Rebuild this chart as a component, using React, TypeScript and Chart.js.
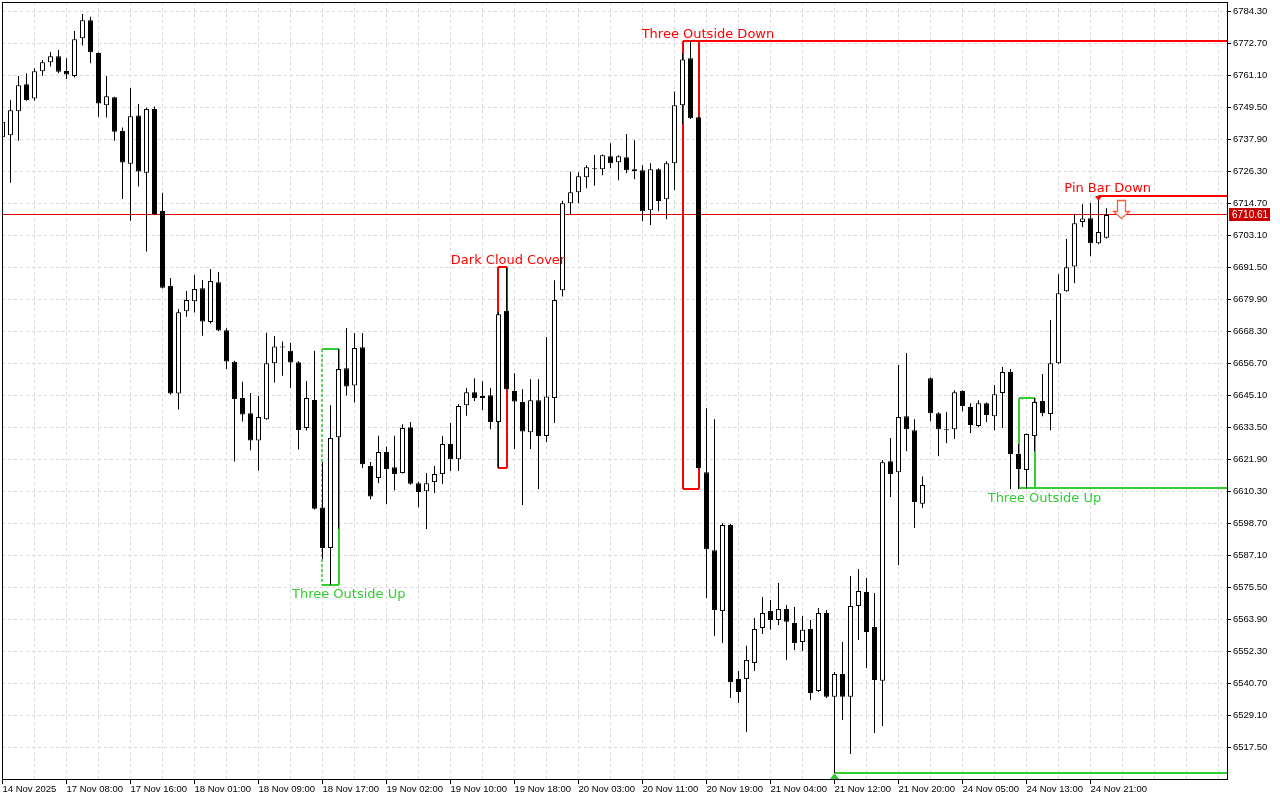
import React, { useEffect, useRef } from 'react';
import { Chart, registerables } from 'chart.js';

Chart.register(...registerables);

// ---- candle data (hourly bars, index 0 = first visible bar) ----
const opens = [
  6738.8, 6739.5, 6748.2, 6758.0, 6752.8, 6762.7, 6766.0, 6768.1, 6762.8, 6761.0,
  6774.7, 6781.2, 6769.3, 6750.4, 6753.3, 6741.0, 6729.2, 6746.7, 6725.9, 6749.0,
  6712.0, 6684.9, 6645.8, 6675.7, 6679.3, 6684.0, 6671.8, 6686.2, 6668.8, 6657.3,
  6644.2, 6638.7, 6628.8, 6636.5, 6656.8, 6662.9, 6661.3, 6657.2, 6633.3, 6643.5,
  6604.5, 6589.8, 6630.0, 6655.0, 6648.7, 6662.6, 6619.5, 6615.2, 6624.6, 6619.1,
  6617.0, 6633.6, 6613.3, 6610.4, 6613.7, 6616.6, 6627.5, 6622.0, 6641.6, 6646.3,
  6644.2, 6645.2, 6635.5, 6675.8, 6646.7, 6642.7, 6631.8, 6643.4, 6630.4, 6644.2,
  6683.3, 6714.8, 6718.8, 6724.3, 6727.5, 6727.2, 6731.9, 6729.7, 6731.5, 6727.2,
  6726.8, 6712.3, 6727.2, 6716.3, 6729.3, 6750.4, 6767.4, 6746.0, 6617.3, 6589.0,
  6566.9, 6598.1, 6542.3, 6542.3, 6548.1, 6560.8, 6566.9, 6563.7, 6567.7, 6562.6,
  6555.7, 6560.4, 6537.9, 6566.2, 6535.8, 6544.1, 6535.8, 6568.8, 6573.8, 6561.1,
  6541.6, 6621.3, 6617.3, 6637.6, 6632.5, 6605.8, 6651.4, 6638.7, 6632.9, 6632.9,
  6646.7, 6640.9, 6634.0, 6642.3, 6637.6, 6646.0, 6653.6, 6623.9, 6618.1, 6630.4,
  6643.1, 6638.4, 6656.8, 6682.9, 6691.9, 6708.0, 6709.4, 6700.3, 6702.3,
];
const highs = [
  6745.8, 6752.3, 6761.0, 6762.0, 6763.8, 6766.8, 6769.7, 6770.4, 6767.4, 6777.3,
  6783.5, 6782.5, 6769.6, 6761.0, 6753.5, 6742.3, 6756.6, 6750.8, 6749.5, 6749.9,
  6718.6, 6687.7, 6676.5, 6683.0, 6688.8, 6687.0, 6691.0, 6689.9, 6669.5, 6657.7,
  6650.1, 6646.0, 6645.0, 6667.9, 6666.7, 6664.7, 6664.2, 6657.5, 6650.4, 6661.3,
  6621.0, 6641.6, 6662.0, 6669.6, 6667.7, 6667.7, 6621.0, 6630.5, 6626.5, 6630.5,
  6634.7, 6635.5, 6613.8, 6617.0, 6619.5, 6630.4, 6635.1, 6642.0, 6647.8, 6651.4,
  6650.3, 6647.8, 6675.4, 6691.6, 6653.2, 6647.4, 6651.0, 6651.0, 6666.3, 6686.9,
  6715.7, 6726.3, 6726.1, 6728.6, 6732.3, 6732.5, 6736.6, 6732.2, 6739.9, 6737.7,
  6728.6, 6729.3, 6727.5, 6730.1, 6755.4, 6769.1, 6773.6, 6746.3, 6640.5, 6636.5,
  6598.8, 6598.5, 6545.2, 6554.3, 6564.4, 6572.0, 6570.9, 6577.1, 6569.1, 6568.4,
  6565.1, 6563.7, 6568.0, 6567.3, 6544.8, 6555.7, 6579.6, 6582.2, 6578.9, 6573.5,
  6621.7, 6629.7, 6656.2, 6660.5, 6636.5, 6615.7, 6651.6, 6639.0, 6639.1, 6647.0,
  6647.0, 6642.3, 6643.4, 6642.6, 6648.9, 6655.4, 6654.7, 6627.5, 6631.3, 6644.2,
  6652.9, 6672.5, 6689.1, 6701.9, 6711.0, 6714.5, 6714.8, 6717.6, 6713.0,
];
const lows = [
  6737.8, 6722.3, 6737.5, 6752.0, 6752.0, 6761.1, 6764.4, 6762.0, 6759.9, 6760.4,
  6772.0, 6765.6, 6746.2, 6745.9, 6737.5, 6716.4, 6708.5, 6720.9, 6697.3, 6710.6,
  6683.9, 6645.5, 6640.0, 6673.7, 6675.2, 6666.8, 6671.2, 6668.5, 6654.7, 6621.2,
  6635.7, 6625.2, 6617.9, 6636.3, 6649.8, 6652.3, 6647.8, 6625.5, 6632.4, 6603.8,
  6585.8, 6576.5, 6596.8, 6645.1, 6642.6, 6618.8, 6607.5, 6613.3, 6605.7, 6610.7,
  6616.8, 6612.7, 6604.6, 6596.7, 6609.7, 6613.0, 6617.7, 6617.7, 6637.8, 6643.1,
  6639.8, 6632.9, 6618.8, 6647.2, 6625.7, 6605.4, 6625.7, 6611.2, 6628.2, 6635.1,
  6681.0, 6710.9, 6714.8, 6720.3, 6721.2, 6725.0, 6727.5, 6723.2, 6725.7, 6723.5,
  6708.3, 6706.9, 6711.9, 6709.0, 6719.6, 6743.5, 6745.4, 6618.5, 6571.7, 6557.9,
  6555.3, 6535.4, 6533.6, 6523.1, 6545.2, 6558.6, 6560.1, 6561.9, 6549.2, 6552.8,
  6552.4, 6534.7, 6537.6, 6535.4, 6508.2, 6527.4, 6515.1, 6556.4, 6546.3, 6522.7,
  6525.2, 6608.3, 6583.6, 6624.9, 6597.0, 6604.3, 6635.8, 6623.1, 6627.8, 6629.3,
  6639.4, 6631.5, 6633.6, 6635.5, 6632.5, 6633.3, 6611.2, 6611.2, 6611.5, 6624.9,
  6637.6, 6632.5, 6656.5, 6682.7, 6685.8, 6706.1, 6695.6, 6700.0, 6702.0,
];
const closes = [
  6744.4, 6748.6, 6757.6, 6752.3, 6762.7, 6766.0, 6768.1, 6762.5, 6761.5, 6774.3,
  6781.2, 6769.6, 6751.0, 6753.6, 6740.8, 6729.6, 6746.4, 6726.3, 6749.0, 6710.9,
  6684.2, 6645.8, 6675.3, 6679.7, 6683.7, 6671.9, 6686.6, 6668.7, 6657.4, 6643.8,
  6638.2, 6628.8, 6637.3, 6656.8, 6662.9, 6662.5, 6657.1, 6632.6, 6644.2, 6604.0,
  6589.8, 6629.7, 6654.7, 6648.4, 6662.3, 6620.2, 6608.5, 6624.6, 6618.4, 6616.6,
  6633.3, 6613.1, 6610.1, 6613.3, 6616.6, 6627.5, 6622.0, 6641.3, 6646.3, 6644.2,
  6644.9, 6635.5, 6674.6, 6647.4, 6642.9, 6632.0, 6643.4, 6630.4, 6644.7, 6679.7,
  6714.8, 6718.8, 6724.6, 6727.9, 6727.2, 6732.2, 6729.3, 6731.9, 6726.8, 6726.4,
  6711.9, 6727.2, 6715.6, 6729.3, 6750.4, 6767.0, 6745.7, 6618.8, 6589.3, 6567.3,
  6598.1, 6541.1, 6537.6, 6549.2, 6560.4, 6566.2, 6563.7, 6567.7, 6563.0, 6555.3,
  6560.1, 6537.2, 6566.2, 6535.8, 6544.1, 6535.8, 6568.8, 6574.2, 6559.3, 6541.9,
  6620.9, 6616.6, 6637.3, 6632.9, 6606.5, 6612.6, 6638.7, 6632.9, 6632.5, 6646.3,
  6641.3, 6634.4, 6642.3, 6638.0, 6645.6, 6653.6, 6623.9, 6618.4, 6631.1, 6642.7,
  6638.7, 6656.8, 6682.2, 6691.6, 6707.6, 6709.3, 6700.3, 6704.4, 6710.61,
];

// ---- axis ticks ----
const xTickIndex = [0, 8, 16, 24, 32, 40, 48, 56, 64, 72, 80, 88, 96, 104, 112, 120, 128, 136];
const xTickLabels = [
  '14 Nov 2025', '17 Nov 08:00', '17 Nov 16:00', '18 Nov 01:00', '18 Nov 09:00', '18 Nov 17:00',
  '19 Nov 02:00', '19 Nov 10:00', '19 Nov 18:00', '20 Nov 03:00', '20 Nov 11:00', '20 Nov 19:00',
  '21 Nov 04:00', '21 Nov 12:00', '21 Nov 20:00', '24 Nov 05:00', '24 Nov 13:00', '24 Nov 21:00',
];
const yTickValues = [
  6784.3, 6772.7, 6761.1, 6749.5, 6737.9, 6726.3, 6714.7, 6703.1, 6691.5, 6679.9, 6668.3, 6656.7,
  6645.1, 6633.5, 6621.9, 6610.3, 6598.7, 6587.1, 6575.5, 6563.9, 6552.3, 6540.7, 6529.1, 6517.5,
];
const lastPrice = 6710.61;

// ---- pattern annotations (bar index, price) ----
const patternBoxes = [
  { from: 40, to: 42, high: 6662.0, low: 6576.5, kind: 'bull', dashedLeft: true, extend: '' },
  { from: 62, to: 63, high: 6691.6, low: 6618.8, kind: 'bear', dashedLeft: false, extend: '' },
  { from: 85, to: 87, high: 6773.6, low: 6611.2, kind: 'bear', dashedLeft: false, extend: 'top' },
  { from: 127, to: 129, high: 6644.3, low: 6611.5, kind: 'bull', dashedLeft: false, extend: 'bottom' },
];
const levelLines = [
  { from: 104, price: 6508.3, kind: 'bull' },
  { from: 137, price: 6717.6, kind: 'bear' },
];
const patternLabels = [
  { text: 'Three Outside Down', x: 88.18, price: 6774.8, kind: 'bear' },
  { text: 'Dark Cloud Cover', x: 63.19, price: 6692.8, kind: 'bear' },
  { text: 'Three Outside Up', x: 43.28, price: 6571.8, kind: 'bull' },
  { text: 'Three Outside Up', x: 130.24, price: 6606.6, kind: 'bull' },
  { text: 'Pin Bar Down', x: 138.15, price: 6718.8, kind: 'bear' },
];
const sellArrow = { x: 139.85, top: 6716.0, neck: 6711.8, tip: 6709.15 };

const X_MIN = -0.0625;
const X_MAX = 153.0625;
const Y_MIN = 6506.01;
const Y_MAX = 6787.82;

const RED = '#ff0000';
const GREEN = '#32cd32';
const kindColor = (k: string) => (k === 'bull' ? GREEN : RED);

const overlayPlugin = {
  id: 'overlay',
  beforeDatasetsDraw(chart: any) {
    const { ctx, chartArea: a, scales } = chart;
    const xs = scales.x;
    const ys = scales.y;
    const px1 = (i: number) => Math.floor(xs.getPixelForValue(i)) + 0.5;
    const py1 = (v: number) => Math.floor(ys.getPixelForValue(v)) + 0.5;
    const px2 = (i: number) => Math.round(xs.getPixelForValue(i));
    const py2 = (v: number) => Math.round(ys.getPixelForValue(v));
    ctx.save();
    ctx.beginPath();
    ctx.rect(a.left, a.top, a.right - a.left, a.bottom - a.top);
    ctx.clip();
    // dashed grid
    ctx.strokeStyle = '#dadada';
    ctx.lineWidth = 1;
    ctx.setLineDash([3, 3]);
    ctx.beginPath();
    for (let i = 4; i < X_MAX; i += 4) {
      const p = px1(i);
      ctx.moveTo(p, a.top);
      ctx.lineTo(p, a.bottom);
    }
    yTickValues.forEach((v) => {
      const p = py1(v);
      ctx.moveTo(a.left, p);
      ctx.lineTo(a.right, p);
    });
    ctx.stroke();
    ctx.setLineDash([]);

    // current price line
    ctx.strokeStyle = '#e00000';
    ctx.lineWidth = 1;
    ctx.beginPath();
    ctx.moveTo(a.left, py1(lastPrice));
    ctx.lineTo(a.right, py1(lastPrice));
    ctx.stroke();

    // pattern boxes
    patternBoxes.forEach((b) => {
      const c = kindColor(b.kind);
      const l = px2(b.from);
      const r = px2(b.to);
      const t = py2(b.high);
      const bt = py2(b.low);
      ctx.strokeStyle = c;
      ctx.lineWidth = 2;
      ctx.beginPath();
      ctx.moveTo(l, t);
      ctx.lineTo(b.extend === 'top' ? a.right : r, t);
      ctx.moveTo(r, t);
      ctx.lineTo(r, bt);
      ctx.moveTo(b.extend === 'bottom' ? a.right : r, bt);
      ctx.lineTo(l, bt);
      ctx.stroke();
      ctx.beginPath();
      if (b.dashedLeft) {
        ctx.setLineDash([3, 2]);
        ctx.lineWidth = 1.5;
      }
      ctx.moveTo(l, t);
      ctx.lineTo(l, bt);
      ctx.stroke();
      ctx.setLineDash([]);
    });

    // level lines
    levelLines.forEach((ln) => {
      ctx.strokeStyle = kindColor(ln.kind);
      ctx.lineWidth = 2;
      ctx.beginPath();
      ctx.moveTo(px2(ln.from), py2(ln.price));
      ctx.lineTo(a.right, py2(ln.price));
      ctx.stroke();
    });
    ctx.restore();
  },
  afterDatasetsDraw(chart: any) {
    const { ctx, chartArea: a, scales } = chart;
    const xs = scales.x;
    const ys = scales.y;
    ctx.save();
    ctx.beginPath();
    ctx.rect(a.left, a.top, a.right - a.left, a.bottom - a.top);
    ctx.clip();

    // markers on level lines
    levelLines.forEach((ln) => {
      const cx = Math.floor(xs.getPixelForValue(ln.from)) + 0.5;
      const cy = Math.round(ys.getPixelForValue(ln.price));
      ctx.fillStyle = kindColor(ln.kind);
      ctx.beginPath();
      if (ln.kind === 'bull') {
        ctx.moveTo(cx, cy);
        ctx.lineTo(cx + 4.5, a.bottom);
        ctx.lineTo(cx - 4.5, a.bottom);
      } else {
        ctx.moveTo(cx - 3.5, cy);
        ctx.lineTo(cx + 3.5, cy);
        ctx.lineTo(cx, cy + 5);
      }
      ctx.closePath();
      ctx.fill();
    });

    // hollow sell arrow
    {
      const cx = Math.floor(xs.getPixelForValue(sellArrow.x)) + 0.5;
      const t = Math.floor(ys.getPixelForValue(sellArrow.top)) + 0.5;
      const n = Math.floor(ys.getPixelForValue(sellArrow.neck)) + 0.5;
      const p = Math.floor(ys.getPixelForValue(sellArrow.tip)) + 0.5;
      ctx.beginPath();
      ctx.moveTo(cx - 4, t);
      ctx.lineTo(cx + 4, t);
      ctx.lineTo(cx + 4, n);
      ctx.lineTo(cx + 8, n);
      ctx.lineTo(cx, p);
      ctx.lineTo(cx - 8, n);
      ctx.lineTo(cx - 4, n);
      ctx.closePath();
      ctx.fillStyle = '#ffffff';
      ctx.fill();
      ctx.strokeStyle = '#ff5a3c';
      ctx.lineWidth = 1.3;
      ctx.stroke();
    }

    // pattern labels
    ctx.font = '13px "DejaVu Sans"';
    ctx.textAlign = 'center';
    ctx.textBaseline = 'alphabetic';
    patternLabels.forEach((lb) => {
      ctx.fillStyle = kindColor(lb.kind);
      ctx.fillText(lb.text, xs.getPixelForValue(lb.x), Math.round(ys.getPixelForValue(lb.price)));
    });
    ctx.restore();

    // frame
    ctx.save();
    ctx.strokeStyle = '#000000';
    ctx.lineWidth = 1;
    ctx.strokeRect(a.left + 0.5, a.top + 0.5, a.right - a.left, a.bottom - a.top);
    ctx.restore();
  },
  afterDraw(chart: any) {
    const { ctx, chartArea: a, scales } = chart;
    const y = Math.floor(scales.y.getPixelForValue(lastPrice)) + 0.5;
    ctx.save();
    ctx.fillStyle = '#c80000';
    ctx.fillRect(a.right + 2, Math.round(y - 6.5), 41, 13);
    ctx.fillStyle = '#ffffff';
    ctx.font = '10px "Liberation Sans"';
    ctx.textAlign = 'left';
    ctx.textBaseline = 'middle';
    ctx.fillText(lastPrice.toFixed(2), a.right + 5, y + 0.5);
    ctx.restore();
  },
};

export default function App() {
  const ref = useRef<HTMLCanvasElement | null>(null);

  useEffect(() => {
    if (!ref.current) return;
    const idx = opens.map((_, i) => i);
    const wickData = idx.map((i) => ({ x: i, y: [lows[i], highs[i]] }));
    const bodyData = idx.map((i) => ({ x: i, y: [opens[i], closes[i]] }));
    const bodyFill = idx.map((i) => (closes[i] >= opens[i] ? '#ffffff' : '#000000'));

    const chart = new Chart(ref.current, {
      type: 'bar',
      data: {
        datasets: [
          {
            label: 'wick',
            data: wickData as any,
            backgroundColor: '#000000',
            borderWidth: 0,
            barThickness: 1,
            grouped: false,
            inflateAmount: 0,
            order: 2,
          } as any,
          {
            label: 'body',
            data: bodyData as any,
            backgroundColor: bodyFill,
            borderColor: '#000000',
            borderWidth: 1,
            borderSkipped: false,
            barThickness: 5,
            minBarLength: 1,
            grouped: false,
            inflateAmount: 0,
            order: 1,
          } as any,
        ],
      },
      options: {
        responsive: false,
        devicePixelRatio: 1,
        animation: false,
        events: [],
        layout: { padding: { left: 2, top: 2, right: 0, bottom: 0 } },
        plugins: { legend: { display: false }, tooltip: { enabled: false } },
        scales: {
          x: {
            type: 'linear',
            min: X_MIN,
            max: X_MAX,
            offset: false,
            position: 'bottom',
            afterBuildTicks: (s: any) => {
              s.ticks = xTickIndex.map((v) => ({ value: v }));
            },
            afterFit: (s: any) => {
              s.height = 21;
              s.paddingLeft = 0;
              s.paddingRight = 0;
            },
            grid: {
              display: true,
              drawOnChartArea: false,
              drawTicks: true,
              tickLength: 5,
              tickColor: '#000000',
              offset: false,
            },
            border: { display: false },
            ticks: {
              autoSkip: false,
              maxRotation: 0,
              minRotation: 0,
              align: 'start',
              padding: 0,
              color: '#000000',
              font: { family: '"Liberation Sans"', size: 9.5 },
              callback: (v: any) => {
                const k = xTickIndex.indexOf(Number(v));
                return k >= 0 ? xTickLabels[k] : '';
              },
            },
          },
          y: {
            type: 'linear',
            position: 'right',
            min: Y_MIN,
            max: Y_MAX,
            beginAtZero: false,
            afterBuildTicks: (s: any) => {
              s.ticks = yTickValues.map((v) => ({ value: v }));
            },
            afterFit: (s: any) => {
              s.width = 53;
              s.paddingTop = 0;
              s.paddingBottom = 0;
            },
            grid: {
              display: true,
              drawOnChartArea: false,
              drawTicks: true,
              tickLength: 4,
              tickColor: '#000000',
            },
            border: { display: false },
            ticks: {
              padding: 2,
              color: '#000000',
              font: { family: '"Liberation Sans"', size: 9.5 },
              callback: (v: any) => Number(v).toFixed(2),
            },
          },
        },
      } as any,
      plugins: [overlayPlugin],
    });
    return () => chart.destroy();
  }, []);

  return (
    <div style={{ position: 'fixed', left: 0, top: 0, width: 1280, height: 800, background: '#ffffff' }}>
      <canvas ref={ref} width={1280} height={800} style={{ display: 'block', width: 1280, height: 800 }} />
    </div>
  );
}
